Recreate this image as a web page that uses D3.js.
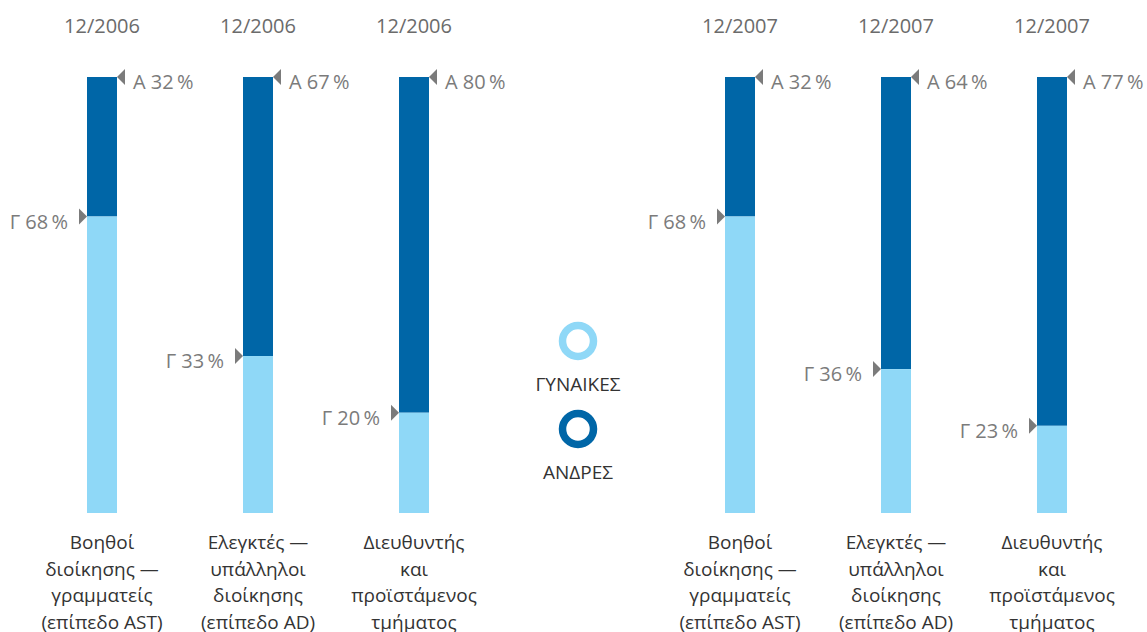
<!DOCTYPE html>
<html>
<head>
<meta charset="utf-8">
<script src="https://cdn.jsdelivr.net/npm/d3@7"></script>
<style>
  body { margin: 0; background: #fff; }
  svg text { font-family: "Open Sans", "Noto Sans", sans-serif; }
</style>
</head>
<body>
<div id="plot"></div>
<script>
// data
var years = ["12/2006", "12/2007"];
var categories = ["ast", "ad", "head"];
var categoryLines = [
  ["Βοηθοί", "διοίκησης —", "γραμματείς", "(επίπεδο AST)"],
  ["Ελεγκτές —", "υπάλληλοι", "διοίκησης", "(επίπεδο AD)"],
  ["Διευθυντής", "και", "προϊστάμενος", "τμήματος"]
];
// printed labels (%)
var womenLabel2006 = [68, 33, 20];
var menLabel2006 = [32, 67, 80];
var womenLabel2007 = [68, 36, 23];
var menLabel2007 = [32, 64, 77];
// light segment height as drawn in the picture (%)
var womenBar2006 = [68, 36, 23];
var womenBar2007 = [68, 33, 20];
var legendNames = ["ΓΥΝΑΙΚΕΣ", "ΑΝΔΡΕΣ"];

var W = 1147, H = 632;
var dark = "#0066a7", light = "#8fd8f7", grey = "#7b7b7b";
var barW = 30;

var svg = d3.select("#plot").append("svg")
  .attr("width", W).attr("height", H);

var xGroup = d3.scalePoint().domain(years).range([102, 740]);
var xInner = d3.scalePoint().domain(categories).range([0, 312]);
var y = d3.scaleLinear().domain([0, 100]).range([513, 77]);

var rows = [];
years.forEach(function(yr, gi) {
  var wl = gi == 0 ? womenLabel2006 : womenLabel2007;
  var ml = gi == 0 ? menLabel2006 : menLabel2007;
  var wb = gi == 0 ? womenBar2006 : womenBar2007;
  categories.forEach(function(c, i) {
    rows.push({year: yr, cat: c, i: i, women: wb[i], wLabel: wl[i], mLabel: ml[i],
      cx: xGroup(yr) + xInner(c)});
  });
});

var bar = svg.selectAll(".bar").data(rows).enter().append("g")
  .attr("class", "bar")
  .attr("transform", function(d) { return "translate(" + d.cx + ",0)"; });

bar.append("rect")
  .attr("x", -barW/2).attr("width", barW)
  .attr("y", y(100)).attr("height", function(d) { return y(d.women) - y(100); })
  .attr("fill", dark);

bar.append("rect")
  .attr("x", -barW/2).attr("width", barW)
  .attr("y", function(d) { return y(d.women); })
  .attr("height", function(d) { return y(0) - y(d.women); })
  .attr("fill", light);

// top year labels
bar.append("text")
  .attr("y", 33)
  .attr("text-anchor", "middle")
  .style("font-size", "20px")
  .attr("fill", "#6b6b6b")
  .text(function(d) { return d.year; });

// men marker + label
bar.append("path")
  .attr("d", function() {
    var x0 = barW/2, yy = y(100);
    return "M" + x0 + "," + yy + "L" + (x0 + 8) + "," + (yy - 8) + "L" + (x0 + 8) + "," + (yy + 8) + "Z";
  })
  .attr("fill", grey);

bar.append("text")
  .attr("x", barW/2 + 16)
  .attr("y", y(100) + 12)
  .style("font-size", "20px")
  .attr("fill", grey)
  .text(function(d) { return "Α " + d.mLabel + "\u2009%"; });

// women marker + label
bar.append("path")
  .attr("d", function(d) {
    var x0 = -barW/2, yy = y(d.women);
    return "M" + x0 + "," + yy + "L" + (x0 - 8) + "," + (yy - 8) + "L" + (x0 - 8) + "," + (yy + 8) + "Z";
  })
  .attr("fill", grey);

bar.append("text")
  .attr("x", -barW/2 - 19)
  .attr("y", function(d) { return y(d.women) + 12; })
  .attr("text-anchor", "end")
  .style("font-size", "20px")
  .attr("fill", grey)
  .text(function(d) { return "Γ " + d.wLabel + "\u2009%"; });

// category labels
bar.append("text")
  .attr("text-anchor", "middle")
  .style("font-size", "19px")
  .attr("fill", "#333")
  .selectAll("tspan")
  .data(function(d) { return categoryLines[d.i]; })
  .enter().append("tspan")
  .attr("x", 0)
  .attr("y", function(d, i) { return 549 + i * 26.5; })
  .text(function(d) { return d; });

// legend
var legend = svg.selectAll(".legend").data(legendNames).enter().append("g")
  .attr("class", "legend")
  .attr("transform", function(d, i) { return "translate(578," + (341 + i * 88) + ")"; });

legend.append("circle")
  .attr("r", 15.5)
  .attr("fill", "none")
  .attr("stroke-width", 7.5)
  .attr("stroke", function(d, i) { return i == 0 ? light : dark; });

legend.append("text")
  .attr("y", 50)
  .attr("text-anchor", "middle")
  .style("font-size", "19px")
  .attr("fill", "#333")
  .text(function(d) { return d; });
</script>
</body>
</html>
